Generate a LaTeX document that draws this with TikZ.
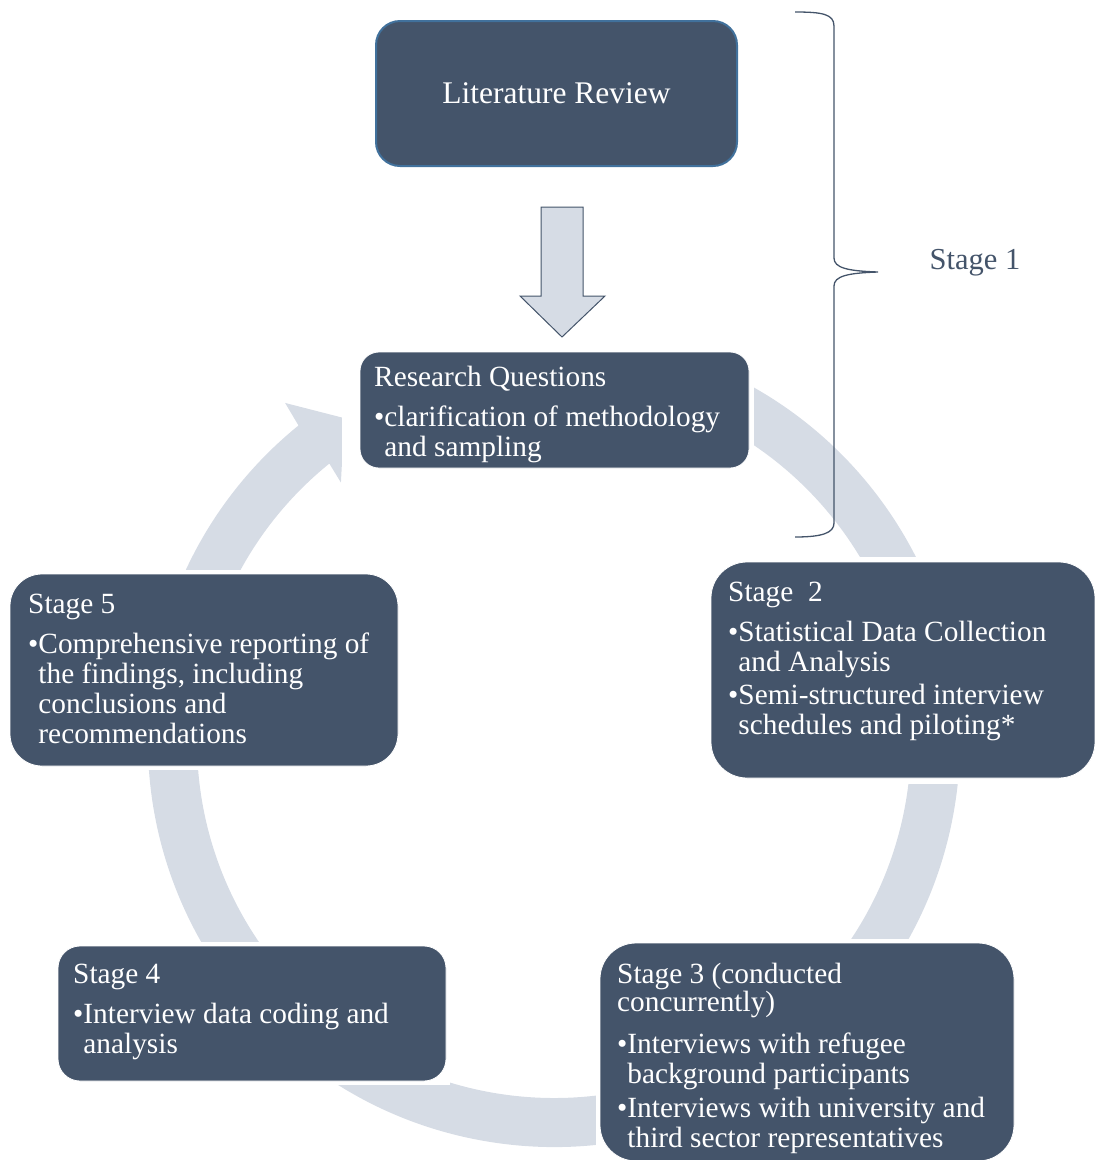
\documentclass[tikz,border=0pt]{standalone}
\usepackage{fontspec}
\setmainfont{Liberation Serif}
\definecolor{boxfill}{HTML}{44546A}
\definecolor{ringfill}{HTML}{D6DCE5}
\definecolor{litborder}{HTML}{41719C}
\definecolor{bracecol}{HTML}{44546A}
\newlength\bltwd
\newcommand\boxtext[1]{\parbox[t]{440pt}{\raggedright\fontsize{29.33}{30}\selectfont #1}}
\newcommand\ttl[1]{#1\par\vspace{10pt}}
\newcommand\bul[1]{\settowidth\bltwd{\textbullet}\hangindent=\bltwd\hangafter=1\noindent\textbullet#1\par}
\begin{document}
\begin{tikzpicture}[x=1pt,y=-1pt,
  stagebox/.style={draw=white, line width=0.8pt, fill=boxfill, rectangle, inner sep=0pt},
  gapbox/.style={fill=white},
  boxlabel/.style={anchor=base west, inner sep=0pt, text=white},
  blockarrow/.style={fill=ringfill, draw=bracecol, line width=1pt, line join=miter},
  bracestyle/.style={draw=bracecol, line width=1.3pt}]
\useasboundingbox (0,0) rectangle (1095,1160);
% ring with arrowhead
\fill[ringfill, shift={(554,741)}] (-80:406) arc[start angle=-80, end angle=231, radius=406]
  -- (231.5:432) -- (237:385) -- (230.5:335) -- (231:357)
  arc[start angle=231, end angle=-80, radius=357] -- cycle;
% gaps around boxes
\fill[gapbox] (342,318) rectangle (754,482);
\fill[gapbox] (704,557) rectangle (1096,784);
\fill[gapbox] (5,570) rectangle (403,770);
\fill[gapbox] (53,942) rectangle (450,1085);
\fill[gapbox] (596,939) rectangle (1019,1165);
% boxes
\node[stagebox, draw=litborder, line width=2pt, minimum width=361pt, minimum height=145pt, rounded corners=24pt] (lit) at (556.5,93.5) {};
\node[font=\fontsize{31.5}{34}\selectfont, text=white] (littext) at (lit.center) {Literature Review};
\node[stagebox, minimum width=389pt, minimum height=116pt, rounded corners=19pt] (rq) at (554.5,410) {};
\node[stagebox, minimum width=384pt, minimum height=216pt, rounded corners=36pt] (s2) at (903,670) {};
\node[stagebox, minimum width=414pt, minimum height=218pt, rounded corners=36pt] (s3) at (807,1052) {};
\node[stagebox, minimum width=388pt, minimum height=135pt, rounded corners=22pt] (s4) at (252,1013.5) {};
\node[stagebox, minimum width=388pt, minimum height=192pt, rounded corners=32pt] (s5) at (204,670) {};
% block arrow
\draw[blockarrow] (541,207) -- (583,207) -- (583,296) -- (605,296) -- (562,337) -- (520,296) -- (541,296) -- cycle;
% texts
\node[boxlabel] (rqtext) at (374,386) {\boxtext{\ttl{Research Questions}\bul{clarification of methodology\newline and sampling}}};
\node[boxlabel] (s2text) at (728,601) {\boxtext{\ttl{Stage\ \ 2}\bul{Statistical Data Collection\newline and Analysis}\vspace{3pt}\bul{Semi-structured interview\newline schedules and piloting*}}};
\node[boxlabel] (s3text) at (617,983) {\boxtext{\fontsize{29.33}{28.5}\selectfont Stage 3 (conducted\newline concurrently)\par\vspace{12pt}\fontsize{29.33}{30}\selectfont\bul{Interviews with refugee\newline background participants}\vspace{4pt}\bul{Interviews with university and\newline third sector representatives}}};
\node[boxlabel] (s4text) at (73,983) {\boxtext{\ttl{Stage 4}\bul{Interview data coding and\newline analysis}}};
\node[boxlabel] (s5text) at (28,613) {\boxtext{\ttl{Stage 5}\bul{Comprehensive reporting of\newline the findings, including\newline conclusions and\newline recommendations}}};
% brace
\draw[bracestyle] (795,12) .. controls (822,12) and (834,14) .. (834,26) -- (834,258)
  .. controls (834,268) and (848,271) .. (878,272)
  .. controls (848,273) and (834,276) .. (834,286) -- (834,523)
  .. controls (834,533) and (822,537) .. (795,537);
\coordinate (bracetip) at (878,272);
\node[font=\fontsize{30.5}{33}\selectfont, text=bracecol] (stage1) at (975,263) {Stage 1};
\end{tikzpicture}
\end{document}
